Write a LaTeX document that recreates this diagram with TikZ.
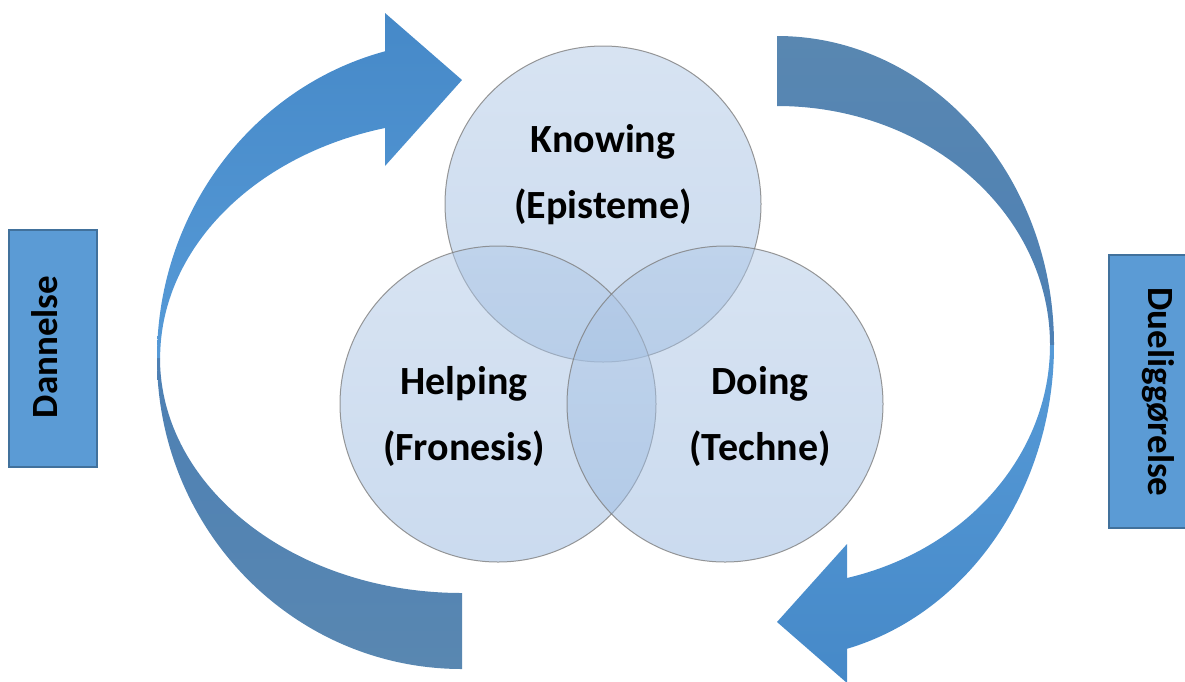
\documentclass[tikz,border=0pt]{standalone}
\usepackage{fontspec}
\setmainfont{Carlito}

\definecolor{CercleHaut}{HTML}{B0C8E6}
\definecolor{CercleBas}{HTML}{97B7DF}
\definecolor{CercleBord}{HTML}{7F7F7F}
\definecolor{FlecheClaire}{HTML}{569AD7}
\definecolor{FlecheFoncee}{HTML}{4689C8}
\definecolor{DosClair}{HTML}{5987B1}
\definecolor{DosFonce}{HTML}{4D80B4}
\definecolor{Boite}{HTML}{5B9BD5}
\definecolor{BoiteBord}{HTML}{41719C}

\begin{document}
\begin{tikzpicture}[x=1pt, y=-1pt,
  cercle/.style={circle, minimum size=316pt, inner sep=0pt, top color=CercleHaut, bottom color=CercleBas,
    fill opacity=0.5, draw=CercleBord, draw opacity=0.8, line width=1pt},
  etiquette/.style={align=center, text=black, font=\bfseries\fontsize{40}{66}\selectfont},
  boite/.style={rectangle, fill=Boite, draw=BoiteBord, line width=2pt, minimum width=88pt},
  cote/.style={text=black, font=\bfseries\fontsize{37}{40}\selectfont, inner sep=0pt}]

 \useasboundingbox (0,0) rectangle (1185,681);
 \clip (0,0) rectangle (1185,681);

 %%%%%%%%%% Fleche gauche %%%%%%%%%%
 % dos (partie du bas)
 \shade [top color=DosFonce, bottom color=DosClair]
   (157,358) arc[start angle=180, end angle=90, x radius=305, y radius=311]
   -- (462,593) arc[start angle=90, end angle=180, x radius=302, y radius=235] -- cycle;
 % face (partie du haut, avec la pointe)
 \shade [top color=FlecheFoncee, bottom color=FlecheClaire]
   (157,358) arc[start angle=180, end angle=255.4, x radius=305, y radius=317]
   -- (385,13) -- (462,80) -- (385,166) -- (385,128)
   arc[start angle=255.2, end angle=180, x radius=302, y radius=238] -- cycle;

 %%%%%%%%%% Fleche droite %%%%%%%%%%
 % dos (partie du haut)
 \shade [top color=DosClair, bottom color=DosFonce]
   (777,36) arc[start angle=270, end angle=360, x radius=277, y radius=309]
   -- (1050,345) arc[start angle=360, end angle=270, x radius=273, y radius=239] -- cycle;
 % face (partie du bas, avec la pointe)
 \shade [top color=FlecheClaire, bottom color=FlecheFoncee]
   (1054,345) arc[start angle=0, end angle=75.36, x radius=277, y radius=314]
   -- (847,683) -- (777,622) -- (847,544) -- (847,578)
   arc[start angle=75.14, end angle=0, x radius=273, y radius=241] -- cycle;

 %%%%%%%%%% Les trois cercles %%%%%%%%%%
 \node [cercle] (knowing) at (603,204) {};
 \node [cercle] (helping) at (498,404) {};
 \node [cercle] (doing)   at (725,404) {};

 \node [etiquette] (knowingtxt) at ([yshift=29pt]knowing.center) {Knowing\\(Episteme)};
 \node [etiquette] (helpingtxt) at ([xshift=-34pt, yshift=-12pt]helping.center) {Helping\\(Fronesis)};
 \node [etiquette] (doingtxt)   at ([xshift=35pt, yshift=-12pt]doing.center) {Doing\\(Techne)};

 %%%%%%%%%% Boites laterales %%%%%%%%%%
 \node [boite, minimum height=237pt] (dannelse) at (53,348.5) {};
 \node [boite, minimum height=273pt] (duelig) at (1153,391.5) {};

 \node [cote, rotate=90, anchor=base]  (dannelsetxt) at (57,347) {Dannelse};
 \node [cote, rotate=-90, anchor=base] (dueligtxt)   at (1148,392) {Dueliggørelse};

\end{tikzpicture}
\end{document}
